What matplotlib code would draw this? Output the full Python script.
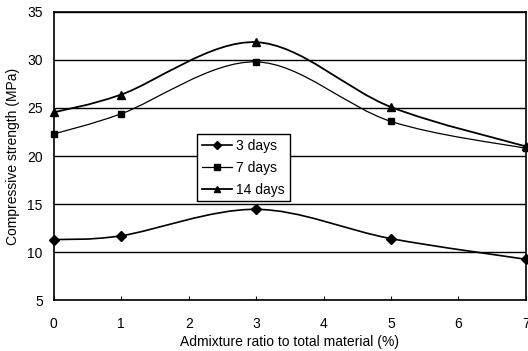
import numpy as np
import matplotlib.pyplot as plt
from matplotlib.path import Path
from matplotlib.patches import PathPatch
from matplotlib.lines import Line2D

plt.rcParams['font.family'] = ['Liberation Sans', 'DejaVu Sans']
plt.rcParams['font.size'] = 10

# Data
ratio = [0, 1, 3, 5, 7]
days3 = [11.3, 11.7, 14.45, 11.4, 9.25]
days7 = [22.3, 24.4, 29.8, 23.6, 20.8]
days14 = [24.55, 26.4, 31.85, 25.1, 21.0]


def smooth_path(x, y, t=1/6):
    # Excel-style smoothed line as cubic Bezier segments
    x = np.asarray(x, float)
    y = np.asarray(y, float)
    n = len(x)
    verts = [(x[0], y[0])]
    codes = [Path.MOVETO]
    for i in range(n - 1):
        p0 = np.array([x[max(i - 1, 0)], y[max(i - 1, 0)]])
        p1 = np.array([x[i], y[i]])
        p2 = np.array([x[i + 1], y[i + 1]])
        p3 = np.array([x[min(i + 2, n - 1)], y[min(i + 2, n - 1)]])
        c1 = p1 + (p2 - p0) * t
        c2 = p2 - (p3 - p1) * t
        verts += [tuple(c1), tuple(c2), tuple(p2)]
        codes += [Path.CURVE4] * 3
    return Path(verts, codes)


fig, ax = plt.subplots(figsize=(5.28, 3.51), dpi=100)
fig.subplots_adjust(left=0.102, right=0.996, bottom=0.145, top=0.966)

series = [(days3, 'D', '3 days', 1.2, 5),
          (days7, 's', '7 days', 0.9, 4.5),
          (days14, '^', '14 days', 1.3, 5.5)]
handles = []
for vals, mk, lab, lw, ms in series:
    ax.add_patch(PathPatch(smooth_path(ratio, vals), fill=False,
                           edgecolor='black', lw=lw, zorder=3))
    ax.plot(ratio, vals, linestyle='none', marker=mk, color='black',
            markersize=ms, zorder=4, clip_on=False)
    handles.append(Line2D([], [], color='black', lw=lw, marker=mk,
                          markersize=ms - 0.5, label=lab))

ax.set_xlim(0, 7)
ax.set_ylim(5, 35)
ax.set_xticks(range(0, 8))
ax.set_yticks(range(5, 36, 5))
ax.yaxis.grid(True, color='black', lw=1.0)
ax.set_axisbelow(True)
ax.tick_params(axis='x', direction='in', length=3, pad=12)
ax.tick_params(axis='y', length=0, pad=8)
for s in ax.spines.values():
    s.set_linewidth(1.2)

ax.set_xlabel('Admixture ratio to total material (%)', labelpad=3)
ax.set_ylabel('Compressive strength (MPa)', labelpad=5)

leg = ax.legend(handles=handles, loc='upper left',
                bbox_to_anchor=(0.303, 0.575), frameon=True, fancybox=False,
                edgecolor='black', framealpha=1, handlelength=2.2,
                handletextpad=0.3, borderpad=0.35, labelspacing=0.55,
                borderaxespad=0, fontsize=10)
leg.get_frame().set_linewidth(1.0)

plt.savefig('out.png', dpi=100)
